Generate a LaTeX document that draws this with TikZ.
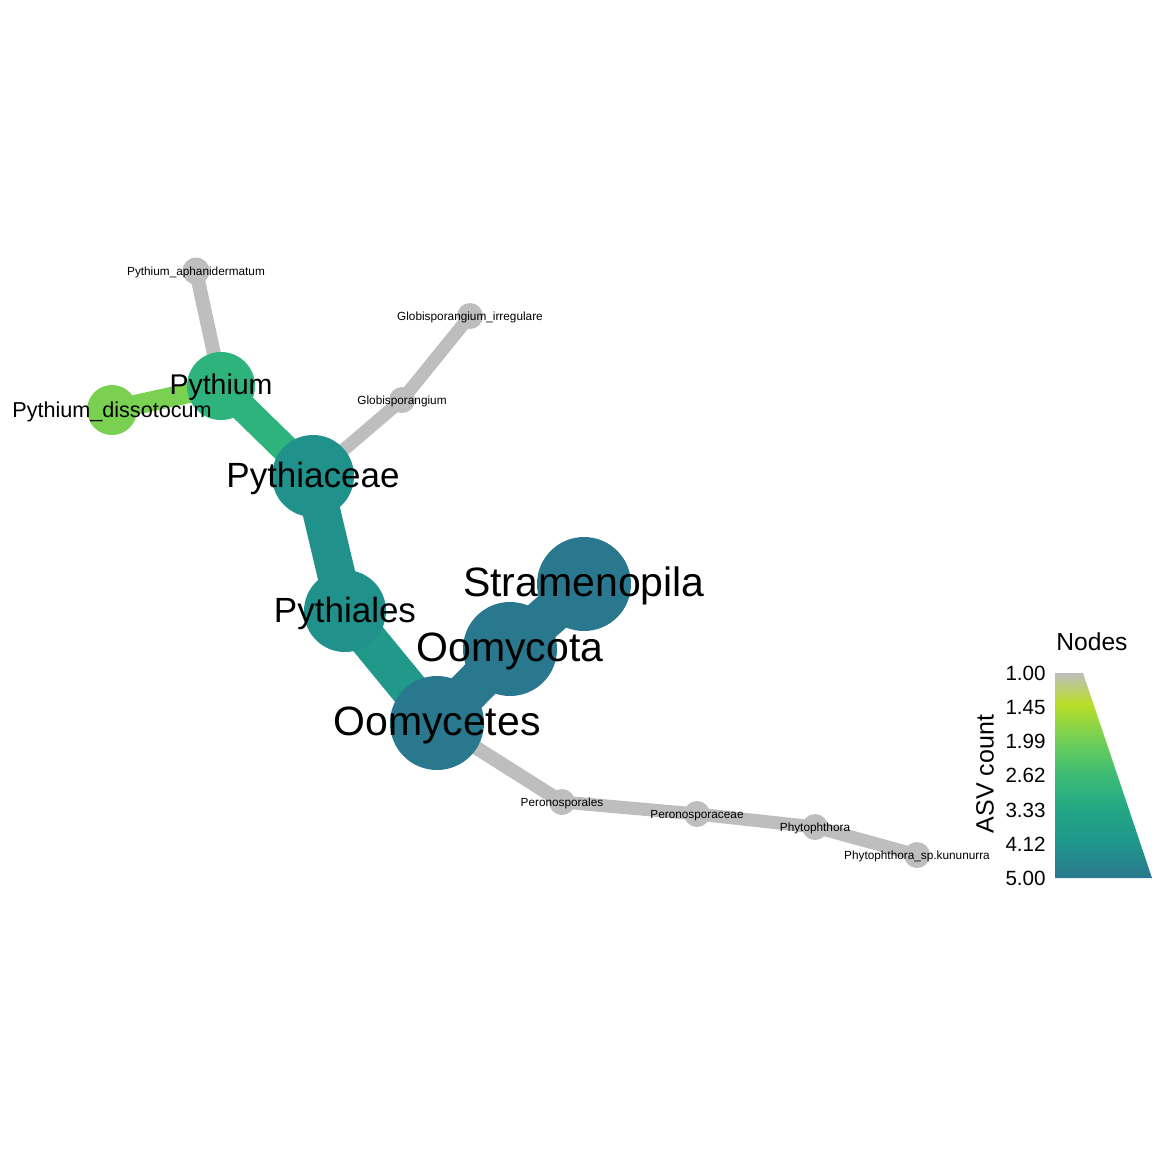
\documentclass[tikz,border=0pt]{standalone}
\usepackage{fontspec}
\setmainfont{Liberation Sans}
\usetikzlibrary{backgrounds}
\definecolor{cfive}{HTML}{2A788E}
\definecolor{cfour}{HTML}{21918C}
\definecolor{cfoure}{HTML}{20988A}
\definecolor{cthree}{HTML}{2EB37C}
\definecolor{ctwo}{HTML}{7AD151}
\definecolor{cone}{HTML}{BEBEBE}
\definecolor{tA}{HTML}{BADE28}
\definecolor{tB}{HTML}{6ECE58}
\definecolor{tC}{HTML}{3BBB75}
\definecolor{tD}{HTML}{22A785}
\definecolor{tE}{HTML}{1F958B}
\pgfdeclareverticalshading{asvshade}{100bp}{color(0bp)=(cfive); color(25bp)=(cfive); color(33.33bp)=(tE); color(41.67bp)=(tD); color(50bp)=(tC); color(58.33bp)=(tB); color(67.5bp)=(tA); color(75bp)=(cone); color(100bp)=(cone)}
\begin{document}
\begin{tikzpicture}[x=0.5pt,y=-0.5pt,
  vtx/.style={circle,inner sep=0pt,draw=none},
  lab/.style={anchor=base,inner sep=0pt,text=black},
  big/.style={lab,font=\fontsize{20.5}{24}\selectfont,yshift=-6.4pt},
  mid/.style={lab,font=\fontsize{17.5}{21}\selectfont,yshift=-5.8pt},
  pyt/.style={lab,font=\fontsize{14.25}{17}\selectfont,yshift=-4.3pt},
  dis/.style={lab,font=\fontsize{10.8}{13}\selectfont,yshift=-3.6pt},
  sml/.style={lab,font=\fontsize{5.9}{7}\selectfont,yshift=-2.1pt},
  edge/.style={line cap=butt}]
\useasboundingbox (0,0) rectangle (1152,1152);
% vertices
\node[vtx,fill=cfive,minimum size=47pt] (stram) at (584,584) {};
\node[vtx,fill=cfive,minimum size=47pt] (oomyc) at (510,649) {};
\node[vtx,fill=cfive,minimum size=47pt] (oomet) at (437,723) {};
\node[vtx,fill=cfour,minimum size=41pt] (pyles) at (345,611) {};
\node[vtx,fill=cfour,minimum size=41pt] (pyeae) at (313,476) {};
\node[vtx,fill=cthree,minimum size=34pt] (pythm) at (221,386) {};
\node[vtx,fill=ctwo,minimum size=25pt] (pydis) at (112,410) {};
\node[vtx,fill=cone,minimum size=13.5pt] (pyaph) at (196,271) {};
\node[vtx,fill=cone,minimum size=13pt] (glob) at (402,400) {};
\node[vtx,fill=cone,minimum size=13pt] (globi) at (470,316) {};
\node[vtx,fill=cone,minimum size=13pt] (peral) at (562,802) {};
\node[vtx,fill=cone,minimum size=13pt] (perac) at (697,814) {};
\node[vtx,fill=cone,minimum size=13pt] (phyt) at (815,827) {};
\node[vtx,fill=cone,minimum size=13pt] (phyk) at (917,855) {};
% edges
\begin{pgfonlayer}{background}
\draw[edge,cfive,line width=21pt] (stram.center) -- (oomyc.center);
\draw[edge,cfive,line width=21pt] (oomyc.center) -- (oomet.center);
\draw[edge,cfoure,line width=19pt] (oomet.center) -- (pyles.center);
\draw[edge,cfour,line width=19pt] (pyles.center) -- (pyeae.center);
\draw[edge,cthree,line width=14pt] (pyeae.center) -- (pythm.center);
\draw[edge,ctwo,line width=10pt] (pythm.center) -- (pydis.center);
\draw[edge,cone,line width=7pt] (pythm.center) -- (pyaph.center);
\draw[edge,cone,line width=6.5pt] (pyeae.center) -- (glob.center);
\draw[edge,cone,line width=6.5pt] (glob.center) -- (globi.center);
\draw[edge,cone,line width=7pt] (oomet.center) -- (peral.center);
\draw[edge,cone,line width=6.5pt] (peral.center) -- (perac.center);
\draw[edge,cone,line width=6.5pt] (perac.center) -- (phyt.center);
\draw[edge,cone,line width=6.5pt] (phyt.center) -- (phyk.center);
\end{pgfonlayer}
% labels
\node[big] (stram-l) at (stram.center) {Stramenopila};
\node[big] (oomyc-l) at (oomyc.center) {Oomycota};
\node[big] (oomet-l) at (oomet.center) {Oomycetes};
\node[mid] (pyles-l) at (pyles.center) {Pythiales};
\node[mid] (pyeae-l) at (pyeae.center) {Pythiaceae};
\node[pyt] (pythm-l) at (pythm.center) {Pythium};
\node[dis] (pydis-l) at (pydis.center) {Pythium\_dissotocum};
\node[sml] (pyaph-l) at (pyaph.center) {Pythium\_aphanidermatum};
\node[sml] (glob-l) at (glob.center) {Globisporangium};
\node[sml] (globi-l) at (globi.center) {Globisporangium\_irregulare};
\node[sml] (peral-l) at (peral.center) {Peronosporales};
\node[sml] (perac-l) at (perac.center) {Peronosporaceae};
\node[sml] (phyt-l) at (phyt.center) {Phytophthora};
\node[sml] (phyk-l) at (phyk.center) {Phytophthora\_sp.kununurra};
% legend
\begin{scope}
\clip (1055,673) -- (1083,673) -- (1152,878) -- (1055,878) -- cycle;
\shade[shading=asvshade] (1055,673) rectangle (1152,878);
\end{scope}
\node[lab,anchor=base west,font=\fontsize{12.3}{15}\selectfont] (leg-title) at (1056,650) {Nodes};
\node[inner sep=0pt,rotate=90,font=\fontsize{12.5}{15}\selectfont] (leg-axis) at (985,774) {ASV count};
\foreach \v/\y [count=\i] in {1.00/673,1.45/707.2,1.99/741.3,2.62/775.5,3.33/809.7,4.12/843.8,5.00/878}
  \node[lab,anchor=base east,font=\fontsize{10.3}{12}\selectfont,yshift=-3.7pt] (tick\i) at (1046,\y) {\v};
\end{tikzpicture}
\end{document}
